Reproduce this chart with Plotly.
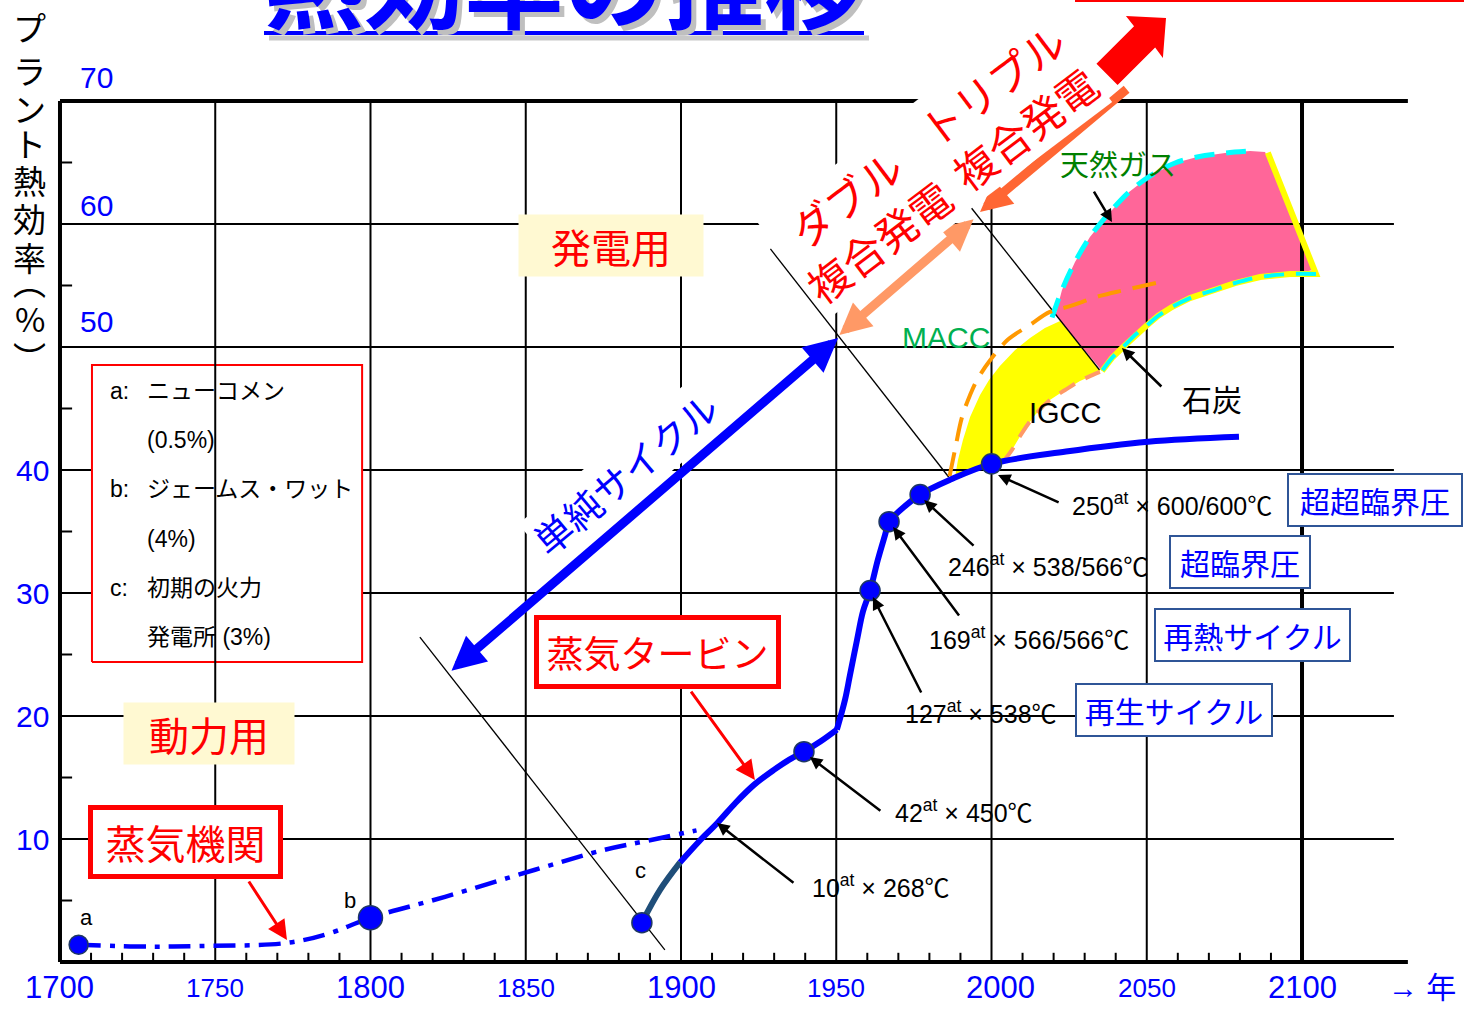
import plotly.graph_objects as go

W, H = 1464, 1009
X_RANGE = [1680.68, 2152.17]
Y_RANGE = [-3.82, 78.21]

LATIN = "Liberation Sans, Arial, Noto Sans CJK JP, sans-serif"
JP = "Noto Sans CJK JP, sans-serif"
BLUE = "#0000FF"
NAVY = "#1F4E79"
RED = "#FF0000"
BLACK = "#000000"

# ---------------- efficiency history ----------------
engine_year = [1706, 1729, 1745, 1773, 1787, 1800, 1824, 1853, 1875, 1889, 1905]
engine_eff = [1.4, 1.25, 1.3, 1.55, 2.35, 3.6, 5.3, 7.5, 9.1, 9.85, 10.7]

early_year = [1887.4, 1893.2, 1899.7]
early_eff = [3.2, 5.85, 8.1]

# reciprocating / early turbine era up to the 1950 jump
turbine_early_year = [1899.7, 1905.8, 1911.7, 1917.6, 1923.5, 1929.8, 1934.9, 1939.6, 1945.0, 1950.2]
turbine_early_eff = [8.1, 9.8, 11.3, 12.95, 14.4, 15.6, 16.45, 17.1, 17.95, 18.9]

# modern steam plants
turbine_year = [1950.2, 1952.8, 1954.4, 1956.7, 1958.6, 1960.9, 1963.4, 1965.7,
                1967.0, 1970.5, 1977.0, 1986.6, 2000.0, 2024.0, 2050.4, 2079.7]
turbine_eff = [18.9, 21.3, 23.3, 26.2, 28.5, 30.2, 32.7, 34.7,
               35.8, 36.7, 38.0, 39.2, 40.5, 41.5, 42.3, 42.7]

point_year = [1706, 1800, 1887.4, 1939.6, 1960.9, 1967.0, 1977.0, 2000.0]
point_eff = [1.4, 3.6, 3.2, 17.1, 30.2, 35.8, 38.0, 40.5]
point_tag = ["a", "b", "c"]

# ---------------- combined-cycle bands ----------------
macc_year = [1986.5, 1988.2, 1990.5, 1993.1, 1995.3, 1999.5, 2005.3, 2012.4,
             2018.8, 2025.0, 2034.9, 2042.3, 2054.6]
macc_eff = [39.5, 41.6, 44.3, 46.1, 47.3, 48.9, 50.6, 51.8,
            52.85, 53.3, 54.15, 54.6, 55.3]

igcc_low_year = [2003.7, 2006.6, 2009.8, 2014.0, 2018.8, 2023.7, 2028.5, 2034.9]
igcc_low_eff = [40.65, 41.63, 43.0, 44.47, 45.69, 46.5, 47.24, 47.97]

igcc_edge_year = [1988.2, 1989.2, 1990.8, 1993.1, 1996.3, 1999.2, 2002.7, 2007.6,
                  2012.4, 2017.2, 2022.1]
igcc_edge_eff = [39.35, 40.81, 42.44, 44.31, 46.1, 47.32, 48.46, 49.76,
                 50.73, 51.54, 52.11]

gas_top_year = [2019.5, 2022.7, 2026.9, 2031.7, 2038.2, 2044.3, 2051.0, 2059.1,
                2066.2, 2075.2, 2083.3, 2088.1]
gas_top_eff = [52.4, 54.63, 56.91, 58.94, 60.98, 62.6, 63.9, 64.96,
               65.45, 65.77, 65.93, 65.85]

coal_top_year = [2104.5, 2096.1, 2086.5, 2078.4, 2071.7, 2063.9, 2058.1, 2053.6,
                 2049.8, 2045.9, 2042.4, 2038.8, 2035.6]
coal_top_eff = [55.93, 55.93, 55.69, 55.2, 54.63, 53.98, 53.25, 52.52,
                51.71, 50.89, 50.0, 49.11, 48.05]

# ---------------- axes ----------------
major_years = [1700, 1750, 1800, 1850, 1900, 1950, 2000, 2050, 2100]
year_labels = ["1700", "1750", "1800", "1850", "1900", "1950", "2000", "2050", "2100"]
eff_levels = [10, 20, 30, 40, 50, 60, 70]
eff_labels = ["10", "20", "30", "40", "50", "60", "70"]

fig = go.Figure()


def line(xs, ys, color, width, dash=None, fill=None, fillcolor=None, shape="linear"):
    fig.add_trace(go.Scatter(
        x=xs, y=ys, mode="lines", hoverinfo="skip",
        line=dict(color=color, width=width, dash=dash, shape=shape),
        fill=fill, fillcolor=fillcolor))


def segments(pairs):
    xs, ys = [], []
    for (x0, y0), (x1, y1) in pairs:
        xs += [x0, x1, None]
        ys += [y0, y1, None]
    return xs, ys


# diagonal boundary between the combined-cycle generations
sep3 = [(1993.6, 61.28), (2034.8, 48.13)]

# IGCC / MACC band (yellow)
yx = igcc_edge_year + [sep3[1][0]] + igcc_low_year[::-1] + [2000.0, 1993.5, 1988.2]
yy = igcc_edge_eff + [sep3[1][1]] + igcc_low_eff[::-1] + [40.5, 39.9, 39.35]
line(yx, yy, "rgba(0,0,0,0)", 0, fill="toself", fillcolor="#FFFF00")

# natural gas / coal band (pink)
line([2020.6] + gas_top_year[1:] + [2103.9] + coal_top_year[1:],
     [52.6] + gas_top_eff[1:] + [56.26] + coal_top_eff[1:],
     "rgba(0,0,0,0)", 0, fill="toself", fillcolor="#FF6699")

# horizontal grid
hx, hy = segments([((1700, v), (2129.6, v)) for v in eff_levels[:-1]])
line(hx, hy, BLACK, 2)

# legend frame (white, hides horizontal grid)
line([1710.3, 1797.3, 1797.3, 1710.3, 1710.3], [24.39, 24.39, 48.54, 48.54, 24.39],
     RED, 2, fill="toself", fillcolor="white")

# vertical grid
vx, vy = segments([((y, 0), (y, 70)) for y in major_years[1:-1]])
line(vx, vy, BLACK, 2)

# frame
fx, fy = segments([((1700, 0), (1700, 70)), ((2100, 0), (2100, 70)),
                   ((1700, 0), (2134.1, 0)), ((1700, 70), (2134.1, 70))])
line(fx, fy, BLACK, 4)

# minor ticks
tx, ty = segments([((y, 0), (y, 0.75)) for y in range(1710, 2100, 10) if y % 50])
line(tx, ty, BLACK, 2)
tx, ty = segments([((1700, v), (1703.9, v)) for v in range(5, 70, 10)])
line(tx, ty, BLACK, 2)

# thin generation dividers
dx, dy = segments([((1815.9, 26.42), (1894.8, 0.98)),
                   ((1928.8, 57.97), (1986.2, 39.43)),
                   tuple(sep3)])
line(dx, dy, BLACK, 1.3)

# band outlines
line(gas_top_year[:-1], gas_top_eff[:-1], "#00FFFF", 5, dash="20px,12px", shape="spline")
line([2089.0, 2104.5] + coal_top_year[1:], [65.8, 55.93] + coal_top_eff[1:], "#FFFF00", 6)
line(coal_top_year, coal_top_eff, "#00FFFF", 4, dash="20px,12px", shape="spline")
line(macc_year, macc_eff, "#FF9900", 4, dash="24px,12px", shape="spline")
line(igcc_low_year, igcc_low_eff, "#FF9966", 4, dash="18px,12px", shape="spline")

# efficiency curves
line(engine_year, engine_eff, BLUE, 4.5, dash="22px,9px,5px,9px", shape="spline")
line(early_year, early_eff, NAVY, 6, shape="spline")
line(turbine_early_year, turbine_early_eff, BLUE, 6, shape="spline")
line(turbine_year, turbine_eff, BLUE, 6, shape="spline")
fig.add_trace(go.Scatter(
    x=point_year, y=point_eff, mode="markers", hoverinfo="skip", opacity=1,
    marker=dict(color=BLUE, opacity=1, size=[19, 24, 20, 20, 20, 20, 20, 20],
                line=dict(color="#1F3864", width=1.5))))

ann = []


def text(x, y, s, size, color=BLACK, family=LATIN, xanchor="center", **kw):
    d = dict(x=x, y=y, xref="x", yref="y", text=s, showarrow=False,
             font=dict(size=size, color=color, family=family),
             xanchor=xanchor, yanchor="middle")
    d.update(kw)
    ann.append(d)


def arrow(tail, head, color, width, size=1.0, both=False):
    ann.append(dict(x=head[0], y=head[1], ax=tail[0], ay=tail[1],
                    xref="x", yref="y", axref="x", ayref="y", text="",
                    showarrow=True, arrowhead=2, arrowsize=size, arrowwidth=width,
                    arrowcolor=color, arrowside="end+start" if both else "end",
                    startarrowhead=2, startarrowsize=size))


# tick labels
for yr, lab in zip(major_years, year_labels):
    big = yr % 100 == 0
    text(yr, -2.11, lab, 31 if big else 26, BLUE, xshift=9 if yr == 2000 else 0)
text(2138.6, -2.11, "→ 年", 30, BLUE)
for v, lab in zip(eff_levels, eff_labels):
    if v >= 50:
        text(1711.9, {50: 52.11, 60: 61.54, 70: 71.95}[v], lab, 30, BLUE)
    else:
        text(1691.0, v, lab, 30, BLUE)

# point tags
for (yr, v), tag in zip([(1708.4, 3.58), (1793.4, 5.04), (1886.8, 7.48)], point_tag):
    text(yr, v, tag, 22)

# legend lines
legend_rows = [("a:", "ニューコメン", 46.42), ("", "(0.5%)", 42.44),
               ("b:", "ジェームス・ワット", 38.46), ("", "(4%)", 34.39),
               ("c:", "初期の火力", 30.41), ("", "発電所 (3%)", 26.42)]
for head, body, v in legend_rows:
    if head:
        text(1715.5, v, head, 23, xanchor="left")
    text(1727.4, v, body, 23, xanchor="left")

# usage boxes
text(1877.5, 58.29, "発電用", 40, RED, JP, bgcolor="#FFF9D2", width=180, height=57, borderpad=2)
text(1748.0, 18.58, "動力用", 40, RED, JP, bgcolor="#FFF9D2", width=166, height=57, borderpad=2)
text(1740.3, 9.72, "蒸気機関", 40, RED, JP, bgcolor="white", bordercolor=RED,
     borderwidth=5, borderpad=2, width=181, height=60)
text(1892.3, 25.24, "蒸気タービン", 37, RED, JP, bgcolor="white", bordercolor=RED,
     borderwidth=5, borderpad=2, width=233, height=60)
arrow((1760.5, 6.67), (1773.1, 1.79), RED, 3, 1.3)
arrow((1902.9, 22.11), (1923.8, 14.8), RED, 3, 1.3)

# steam conditions
conditions = [("10<sup>at</sup> × 268℃", 1941.5, 6.18, (1936.7, 6.34), (1911.6, 11.3)),
              ("42<sup>at</sup> × 450℃", 1968.3, 12.28, (1964.7, 12.2), (1941.5, 16.67)),
              ("127<sup>at</sup> × 538℃", 1971.5, 20.33, (1977.6, 21.79), (1961.8, 29.67)),
              ("169<sup>at</sup> × 566/566℃", 1979.2, 26.34, (1989.9, 28.05), (1968.3, 35.37)),
              ("246<sup>at</sup> × 538/566℃", 1985.3, 32.28, (1994.7, 33.74), (1978.3, 37.56)),
              ("250<sup>at</sup> × 600/600℃", 2025.3, 37.24, (2022.1, 37.32), (2002.1, 39.59))]
for s, yr, v, tail, head in conditions:
    arrow(tail, head, BLACK, 2.5, 1.0)
    text(yr, v, s, 25, xanchor="left")

cycles = [("超超臨界圧", 2123.5, 37.56, 168), ("超臨界圧", 2080.0, 32.52, 134),
          ("再熱サイクル", 2084.1, 26.59, 189), ("再生サイクル", 2058.8, 20.45, 190)]
for s, yr, v, w in cycles:
    text(yr, v, s, 30, BLUE, JP, bgcolor="white", bordercolor="#2F5597",
         borderwidth=2, borderpad=2, width=w, height=46)

# band labels
text(1985.3, 50.81, "MACC", 30, "#00B050")
text(2023.7, 44.63, "IGCC", 29)
text(2071.0, 45.85, "石炭", 30, family=JP)
text(2040.7, 64.96, "天然ガス", 29, "#008000", JP)
arrow((2032.7, 62.76), (2038.8, 60.16), BLACK, 2.5, 1.0)
arrow((2055.2, 46.67), (2042.0, 49.92), BLACK, 2.5, 1.0)

# generation arrows
arrow((1825.6, 23.58), (1950.6, 50.73), BLUE, 9, 0.75, both=True)
arrow((1994.7, 60.49), (1951.0, 50.98), "#FF9966", 9, 0.7, both=True)
arrow((2044.0, 71.06), (1996.3, 60.98), "#FF6633", 9, 0.7)

text(1882.0, 39.76, "単純サイクル", 38, BLUE, JP, textangle=-40, bgcolor="white")
text(1958.3, 60.41, "ダブル<br>複合発電", 42, RED, JP, textangle=-37, bgcolor="white")
text(2005.3, 69.6, "トリプル<br>複合発電", 42, RED, JP, textangle=-37, bgcolor="white")

# title with drop shadow
title = "<b>熱効率の推移</b>"
for dx_, dy_, col in [(5, -5, "#BFBFBF"), (0, 0, BLUE)]:
    ann.append(dict(x=564 / W, y=1 - 52 / H, xref="paper", yref="paper", text=title,
                    showarrow=False, xanchor="center", yanchor="bottom",
                    xshift=dx_, yshift=dy_,
                    font=dict(size=100, color=col, family=JP)))

# vertical axis title
ytitle = ["プ", "ラ", "ン", "ト", "熱", "効", "率", "︵", "%", "︶"]
ypos = [27, 70, 108, 143, 180, 218, 257, 281, 318, 357]
for ch, py in zip(ytitle, ypos):
    ann.append(dict(x=30 / W, y=1 - py / H, xref="paper", yref="paper", text=ch,
                    showarrow=False, xanchor="center", yanchor="middle",
                    font=dict(size=33, color=BLACK, family=JP)))

shapes = [
    # title underline and its shadow
    dict(type="line", xref="paper", yref="paper", x0=269 / W, x1=869 / W,
         y0=1 - 38 / H, y1=1 - 38 / H, line=dict(color="#C8C8C8", width=5)),
    dict(type="line", xref="paper", yref="paper", x0=264 / W, x1=864 / W,
         y0=1 - 33 / H, y1=1 - 33 / H, line=dict(color=BLUE, width=4)),
    # edge of the red frame above the band
    dict(type="line", xref="paper", yref="paper", x0=1075 / W, x1=1.0,
         y0=1.0, y1=1.0, line=dict(color=RED, width=4)),
    # next-generation block arrow
    dict(type="path", xref="x", yref="y", layer="above",
         path="M 2056.2,76.75 L 2055.2,73.5 L 2052.7,74.34 L 2040.6,71.29 "
              "L 2033.8,73.02 L 2045.9,76.07 L 2043.3,76.91 Z",
         fillcolor=RED, line=dict(color=RED, width=0)),
]

fig.update_layout(
    width=W, height=H, margin=dict(l=0, r=0, t=0, b=0),
    paper_bgcolor="white", plot_bgcolor="white", showlegend=False,
    xaxis=dict(range=X_RANGE, visible=False, fixedrange=True),
    yaxis=dict(range=Y_RANGE, visible=False, fixedrange=True),
    annotations=ann, shapes=shapes,
    font=dict(family=LATIN),
)

fig.write_html("out.html")
